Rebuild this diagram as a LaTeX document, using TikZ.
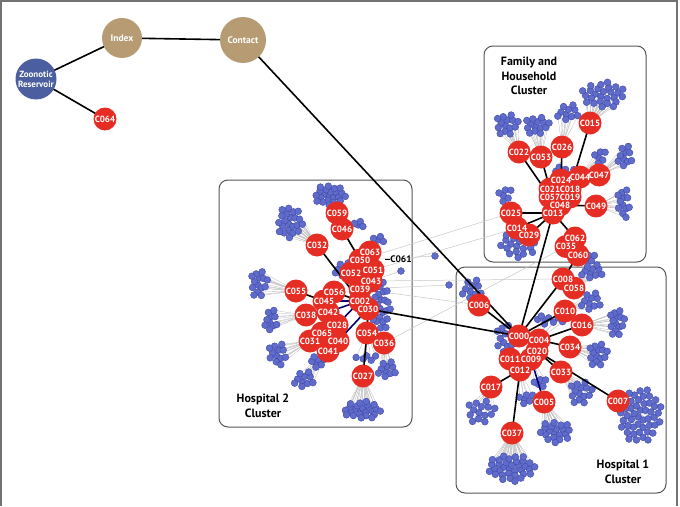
\documentclass[tikz,border=0pt]{standalone}
\usepackage{fontspec}
\setmainfont{PT Sans}
\usepackage{tikz}
\usepackage{xcolor}

\definecolor{nodered}{RGB}{230,45,36}
\definecolor{dotblue}{RGB}{96,108,204}
\definecolor{dotedge}{RGB}{62,72,165}
\definecolor{resblue}{RGB}{74,94,160}
\definecolor{contacttan}{RGB}{182,155,115}
\definecolor{boxgray}{RGB}{85,85,85}
\definecolor{fangray}{RGB}{190,190,190}

\pgfdeclarelayer{boxes}
\pgfdeclarelayer{fans}
\pgfdeclarelayer{dots}
\pgfdeclarelayer{links}
\pgfsetlayers{boxes,fans,dots,links,main}

% contact clusters: parent/cx/cy/count/rx/ry
\def\bloblist{%
  C015/603/95/26/22/14, C022/507/124/14/12/12, C053/537/125/14/13/10,
  C026/568/113/10/12/9, C044/600/156/6/7/8, C047/625/157/10/8/12,
  C049/624/203/12/7/16, C025/505/194/6/8/8, C014/519/245/20/20/13,
  C024/565/172/8/14/6, C060/588/258/5/8/5,
  C059/330/195/22/16/11, C032/290/222/22/13/17, C046/360/224/4/6/4,
  C063/380/239/4/7/4, C055/259/283/14/9/15, C002/381/306/24/10/25,
  C052/344/270/10/10/8, C038/271/321/10/7/12, C031/278/354/12/10/12,
  C041/304/380/10/11/9, C040/318/362/7/9/6, C027/362/410/24/20/9,
  C036/387/370/10/10/9, C054/366/358/5/12/4,
  C006/472/290/10/11/11, C058/592/272/10/12/8, C010/591/302/10/11/10,
  C016/617/322/14/8/15, C034/598/354/14/10/13, C000/505/340/12/9/18,
  C004/548/320/8/16/5, C033/581/392/14/12/13, C007/640/415/48/22/28,
  C005/556/432/20/17/11, C017/481/411/14/15/13, C012/526/398/6/9/6,
  C037/511/468/34/24/14, C009/540/383/5/7/6}
% single contacts: parent/x/y
\def\lonelist{C050/435/256, C043/401/271, C039/449/285}

\begin{document}
\begin{tikzpicture}[x=1pt, y=-1pt,
    rdisk/.style={circle, fill=nodered, minimum size=23, inner sep=0},
    rlab/.style={text=white, font=\bfseries\fontsize{9}{9}\selectfont, inner sep=0},
    bignode/.style={circle, inner sep=0, text=white, align=center,
      font=\bfseries\fontsize{9.5}{11}\selectfont},
    link/.style={line width=1.6, black},
    navylink/.style={line width=1.6, blue!45!black},
    thinlink/.style={line width=0.5, black!22},
    fanline/.style={line width=0.35, fangray},
    contact/.style={fill=dotblue, draw=dotedge, line width=0.4},
    boxline/.style={draw=boxgray, line width=1, rounded corners=9},
    title/.style={align=center, font=\bfseries\fontsize{12}{14.5}\selectfont}]
  \useasboundingbox (0,0) rectangle (680,506);
  \draw[line width=1.5, black!55] (1,506) -- (1,1) -- (677,1) -- (677,506);

  % cluster boxes
  \begin{pgfonlayer}{boxes}
    \draw[boxline] (484,46) rectangle (646,262);
    \draw[boxline] (219,180) rectangle (412,427);
    \draw[boxline] (456,267) rectangle (666,493);
  \end{pgfonlayer}
  \node[title] (famT) at (529,76) {Family and\\Household\\Cluster};
  \node[title] (hosT2) at (263,406) {Hospital 2\\Cluster};
  \node[title] (hosT1) at (623,472) {Hospital 1\\Cluster};

  % early chain
  \node[bignode, fill=resblue, minimum size=41, font=\bfseries\fontsize{9}{10}\selectfont]
    (ZR) at (36,79) {Zoonotic\\Reservoir};
  \node[bignode, fill=contacttan, minimum size=40] (Index) at (122,38) {Index};
  \node[bignode, fill=contacttan, minimum size=46] (Contact) at (243,40) {Contact};

  % cases
  \foreach \n/\x/\y in {C064/105/119,
      C015/590/123, C022/519/152, C053/541/157, C026/562/147, C044/580/177,
      C047/599/175, C024/561/180, C021/550/189, C018/570/189, C057/550/197,
      C019/570/197, C048/560/205, C013/553/213, C049/596/206, C025/511/213,
      C014/517/228, C029/529/235, C062/575/238, C035/566/246.5, C060/578/255,
      C059/337/213, C046/342/229, C032/317/245, C063/370/252, C050/360/260,
      C052/351/273, C051/373/270, C043/371/281, C039/360/289, C055/296/291,
      C056/334/292, C045/324/301, C002/360/301, C030/368/309, C038/306/315,
      C042/328/312, C028/337/325, C065/322/333, C031/310/341, C040/338/341,
      C041/328/351, C054/367/333, C036/384/343, C027/363/376,
      C006/479/305, C008/563/279, C058/574/288, C010/565/311, C016/582/325,
      C000/519/336, C004/539/340, C034/570/347, C020/537/351, C011/510/359,
      C009/531/359, C012/520/370, C033/561/372, C017/491/387, C005/544/402,
      C037/512/433, C007/618/401}
    \node[rdisk] (\n) at (\x,\y) {};
  \foreach \n in {C064, C015, C022, C053, C026, C044, C047, C024, C021, C018,
      C057, C019, C048, C013, C049, C025, C014, C029, C062, C035, C060,
      C059, C046, C032, C063, C050, C052, C051, C043, C039, C055, C056, C045,
      C002, C030, C038, C042, C028, C065, C031, C040, C041, C054, C036, C027,
      C006, C008, C058, C010, C016, C000, C004, C034, C020, C011, C009, C012,
      C033, C017, C005, C037, C007}
    \node[rlab] at (\n) {\n};
  \node[font=\bfseries\fontsize{9.5}{9.5}\selectfont, inner sep=0] (C061) at (401,259) {C061};
  \coordinate (c61) at (385,259);
  \draw[line width=0.8] (c61) -- (C061.west);

  % transmission links
  \begin{pgfonlayer}{links}
    \foreach \a/\b in {ZR/Index, ZR/C064, Index/Contact, Contact/C000,
        C015/C018, C022/C057, C053/C021, C026/C024, C049/C048, C025/C013,
        C014/C013, C029/C013, C013/C062, C013/C000, C060/C008,
        C059/C046, C046/C050, C032/C002, C055/C045, C056/C002, C038/C042,
        C030/C054, C054/C027, C030/C000,
        C006/C000, C000/C008, C000/C010, C004/C016, C004/C034, C020/C033,
        C020/C007, C012/C017, C012/C037, C011/C012}
      \draw[link] (\a.center) -- (\b.center);
    \foreach \a/\b in {C042/C002, C028/C002, C040/C030, C045/C002, C009/C005}
      \draw[navylink] (\a.center) -- (\b.center);
  \end{pgfonlayer}

  % fan lines to contacts
  \begin{pgfonlayer}{fans}
    \foreach \a/\b in {C050/C025, C051/C014, C039/C006, C043/C008, C036/C035}
      \draw[thinlink] (\a.center) -- (\b.center);
    \foreach \p/\x/\y in \lonelist
      \draw[thinlink] (\p.center) -- (\x,\y);
    \foreach \p/\cx/\cy/\k/\rx/\ry in \bloblist {
      \foreach \i in {1,...,\k} {
        \pgfmathsetmacro\bx{\cx+\rx*sqrt((\i-0.5)/\k)*cos(137.508*\i)}
        \pgfmathsetmacro\by{\cy+\ry*sqrt((\i-0.5)/\k)*sin(137.508*\i)}
        \draw[fanline] (\p.center) -- (\bx,\by);
      }}
  \end{pgfonlayer}

  % contact dots
  \begin{pgfonlayer}{dots}
    \foreach \p/\x/\y in \lonelist
      \filldraw[contact] (\x,\y) circle (3.4);
    \foreach \p/\cx/\cy/\k/\rx/\ry in \bloblist {
      \foreach \i in {1,...,\k} {
        \pgfmathsetmacro\bx{\cx+\rx*sqrt((\i-0.5)/\k)*cos(137.508*\i)}
        \pgfmathsetmacro\by{\cy+\ry*sqrt((\i-0.5)/\k)*sin(137.508*\i)}
        \filldraw[contact] (\bx,\by) circle (3.4);
      }}
  \end{pgfonlayer}
\end{tikzpicture}
\end{document}
